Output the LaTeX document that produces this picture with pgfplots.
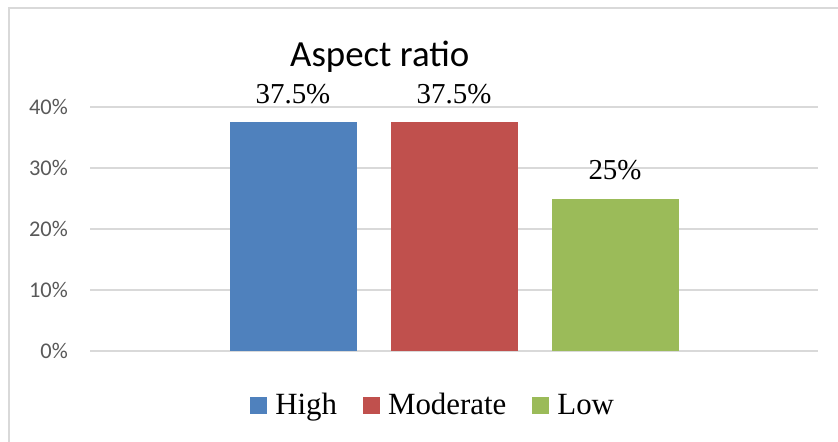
\documentclass[border=0pt]{standalone}
\usepackage{pgfplots}
\pgfplotsset{compat=1.18}
\usepackage{fontspec}
\setmainfont{Liberation Serif}
\newfontfamily\calfont{Carlito}

\definecolor{barblue}{HTML}{4F81BD}
\definecolor{barred}{HTML}{C0504D}
\definecolor{bargreen}{HTML}{9BBB59}
\definecolor{gridgray}{HTML}{D9D9D9}
\definecolor{ticktext}{HTML}{595959}

\begin{document}
\begin{tikzpicture}
\begin{axis}[
    name=ax,
    at={(0,0)}, anchor=south west,
    scale only axis,
    width=728bp, height=244bp,
    ybar=34bp, bar width=127bp,
    xmin=-1, xmax=1,
    ymin=0, ymax=40,
    enlargelimits=false,
    clip=false,
    xtick=\empty,
    ytick={0,10,20,30,40},
    yticklabel={\pgfmathprintnumber{\tick}\%},
    /pgf/number format/assume math mode=true,
    yticklabel style={font=\calfont\fontsize{22.5}{22.5}\selectfont, text=ticktext, inner sep=0pt, anchor=east, xshift=-22bp},
    axis line style={draw=none},
    major tick length=0pt,
    ymajorgrids,
    major grid style={draw=gridgray, line width=1.5bp},
    title={Aspect ratio},
    title style={font=\calfont\fontsize{37}{37}\selectfont, at={(0.398,1)}, anchor=base, yshift=35bp, inner sep=0pt},
    nodes near coords={\pgfmathprintnumber{\pgfplotspointmeta}\%},
    every node near coord/.append style={font=\fontsize{29}{29}\selectfont, anchor=base, inner sep=0pt, yshift=19bp, text=black},
    legend columns=-1,
    legend style={at={(0.47,-54bp)}, anchor=center, draw=none, fill=none,
      font=\fontsize{31}{31}\selectfont,
      nodes={inner sep=0pt},
      /tikz/every odd column/.append style={column sep=8bp},
      /tikz/every even column/.append style={column sep=26bp}},
    legend image code/.code={\fill[#1] (0bp,-8.5bp) rectangle (17bp,8.5bp);},
]
\addplot[fill=barblue, draw=none] coordinates {(0,37.5)};
\addplot[fill=barred, draw=none] coordinates {(0,37.5)};
\addplot[fill=bargreen, draw=none] coordinates {(0,25)};
\legend{High, Moderate, Low}
\end{axis}
\draw[gridgray, line width=1.5bp] (-81bp,-91bp) -- (-81bp,343bp) -- (748bp,343bp);
\pgfresetboundingbox
\path[use as bounding box] (-90bp,-91bp) rectangle (748bp,351bp);
\end{tikzpicture}
\end{document}
